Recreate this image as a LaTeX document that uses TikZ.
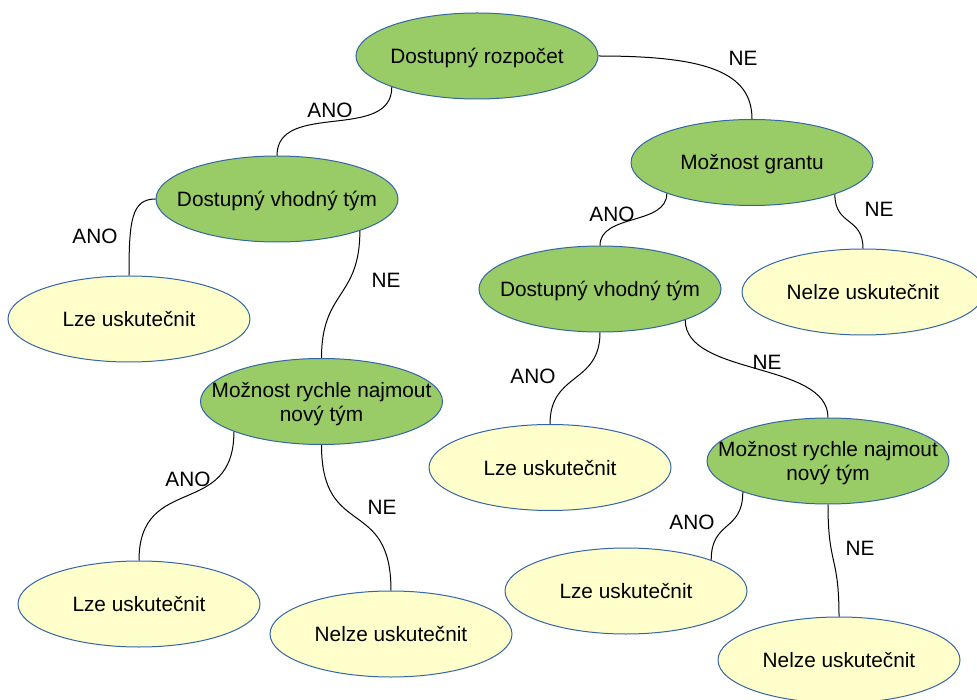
\documentclass[tikz,border=0pt]{standalone}
\usepackage{fontspec}
\setmainfont{Liberation Sans}
\usetikzlibrary{shapes.geometric}
\definecolor{decgreen}{HTML}{99CC66}
\definecolor{endyellow}{HTML}{FFFFCC}
\definecolor{rimblue}{HTML}{3465A4}
\tikzset{
  oval/.style={ellipse, draw=rimblue, line width=1pt,
    minimum width=242pt, minimum height=86pt,
    inner xsep=-40pt, inner ysep=0pt, align=center,
    font=\fontsize{20.8}{24}\selectfont,
    text height=15pt, text depth=0pt},
  twoline/.style={text height=39pt, text depth=0pt},
  question/.style={oval, fill=decgreen},
  outcome/.style={oval, fill=endyellow},
  answer/.style={font=\fontsize{20.8}{24}\selectfont, inner sep=0pt},
  link/.style={draw=black, line width=1pt},
}
\begin{document}
\begin{tikzpicture}[x=1pt, y=-1pt]
  \clip (0,0) rectangle (977,700);
  \useasboundingbox (0,0) rectangle (977,700);

  % decision and outcome nodes
  \node[question] (budget) at (477,56)      {Dostupný rozpočet};
  \node[question] (grant)  at (752,162.5)   {Možnost grantu};
  \node[question] (teamL)  at (277,199)     {Dostupný vhodný tým};
  \node[outcome]  (yesL)   at (129,319)     {Lze uskutečnit};
  \node[question, twoline] (hireL) at (321.5,401.5) {Možnost rychle najmout\\nový tým};
  \node[outcome]  (yesLL)  at (139,604)     {Lze uskutečnit};
  \node[outcome]  (noLL)   at (391,634)     {Nelze uskutečnit};
  \node[question] (teamR)  at (600,289)     {Dostupný vhodný tým};
  \node[outcome]  (noR)    at (863,292)     {Nelze uskutečnit};
  \node[outcome]  (yesR)   at (550,467.5)   {Lze uskutečnit};
  \node[question, twoline] (hireR) at (828,461) {Možnost rychle najmout\\nový tým};
  \node[outcome]  (yesRR)  at (626,591)     {Lze uskutečnit};
  \node[outcome]  (noRR)   at (839,660)     {Nelze uskutečnit};

  % curved connectors
  \draw[link] (budget.200.6) .. controls +(0,55) and +(0,-55) .. (teamL.north);
  \draw[link] (budget.east) .. controls +(105,0) and +(0,-48) .. (grant.north);
  \draw[link] (teamL.west) .. controls +(-24,0) and +(0,-55) .. (yesL.north);
  \draw[link] (teamL.339.4) .. controls +(0,68) and +(0,-68) .. (hireL.north);
  \draw[link] (hireL.199.6) .. controls +(0,88) and +(0,-88) .. (yesLL.north);
  \draw[link] (hireL.south) .. controls +(0,95) and +(0,-95) .. (noLL.north);
  \draw[link] (grant.200.3) .. controls +(0,32) and +(0,-32) .. (teamR.north);
  \draw[link] (grant.339.9) .. controls +(0,32) and +(0,-32) .. (noR.north);
  \draw[link] (teamR.south) .. controls +(0,52) and +(0,-52) .. (yesR.north);
  \draw[link] (teamR.340.4) .. controls +(0,56) and +(0,-56) .. (hireR.north);
  \draw[link] (hireR.200) .. controls +(0,40) and +(0,-40) .. (yesRR.20.4);
  \draw[link] (hireR.south) .. controls +(0,62) and +(0,-62) .. (noRR.north);

  % branch labels
  \node[answer] (a1)  at (330,110) {ANO};
  \node[answer] (n1)  at (743,58)  {NE};
  \node[answer] (a2)  at (95,236)  {ANO};
  \node[answer] (n2)  at (386,280) {NE};
  \node[answer] (a3)  at (188,479) {ANO};
  \node[answer] (n3)  at (382,507) {NE};
  \node[answer] (a4)  at (612,214) {ANO};
  \node[answer] (n4)  at (879,209) {NE};
  \node[answer] (a5)  at (533,376) {ANO};
  \node[answer] (n5)  at (767,362) {NE};
  \node[answer] (a6)  at (692,522) {ANO};
  \node[answer] (n6)  at (860,548) {NE};
\end{tikzpicture}
\end{document}
